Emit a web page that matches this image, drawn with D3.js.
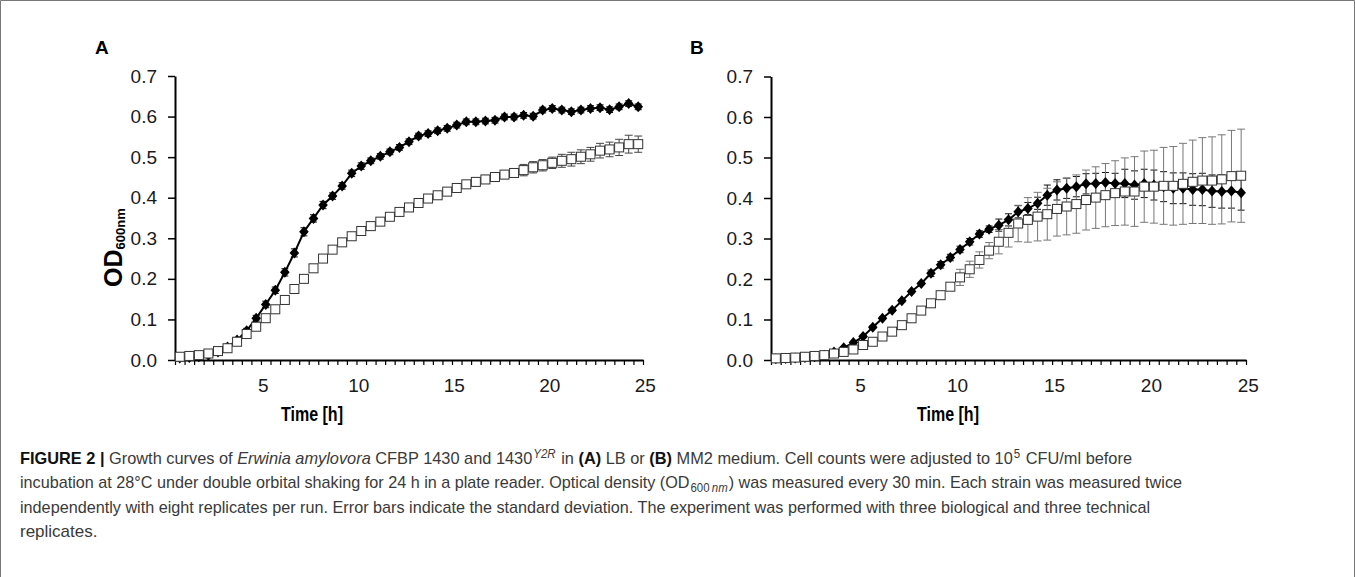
<!DOCTYPE html>
<html>
<head>
<meta charset="utf-8">
<script src="https://cdn.jsdelivr.net/npm/d3@7"></script>
<style>
  html, body { margin: 0; padding: 0; background: #fff; }
  svg { display: block; }
</style>
</head>
<body>
<svg id="fig" width="1355" height="577"></svg>
<script>
// Growth curves, OD600 vs time, two media (A = LB, B = MM2)

const TIME_H = [0.5, 1, 1.5, 2, 2.5, 3, 3.5, 4, 4.5, 5, 5.5, 6, 6.5, 7, 7.5, 8, 8.5, 9, 9.5, 10,
  10.5, 11, 11.5, 12, 12.5, 13, 13.5, 14, 14.5, 15, 15.5, 16, 16.5, 17, 17.5, 18, 18.5, 19, 19.5, 20,
  20.5, 21, 21.5, 22, 22.5, 23, 23.5, 24, 24.5];
const X_LABELS = [5, 10, 15, 20, 25];
const Y_TICKS = [0, 0.1, 0.2, 0.3, 0.4, 0.5, 0.6, 0.7];

// LB medium — wild type (filled diamonds)
const lbWT = [0.005, 0.006, 0.008, 0.012, 0.02, 0.032, 0.049, 0.072, 0.103, 0.137,
  0.172, 0.216, 0.264, 0.316, 0.349, 0.382, 0.404, 0.429, 0.46, 0.478,
  0.491, 0.502, 0.513, 0.524, 0.538, 0.552, 0.558, 0.565, 0.571, 0.579,
  0.587, 0.587, 0.589, 0.591, 0.599, 0.599, 0.603, 0.601, 0.616, 0.62,
  0.616, 0.612, 0.616, 0.62, 0.622, 0.617, 0.624, 0.632, 0.624];
const lbWTsd = [0.003, 0.003, 0.003, 0.003, 0.004, 0.004, 0.005, 0.006, 0.007, 0.008,
  0.008, 0.009, 0.01, 0.01, 0.009, 0.009, 0.008, 0.008, 0.008, 0.008,
  0.007, 0.007, 0.007, 0.007, 0.007, 0.007, 0.007, 0.007, 0.007, 0.007,
  0.007, 0.007, 0.007, 0.007, 0.007, 0.007, 0.007, 0.007, 0.007, 0.007,
  0.007, 0.007, 0.007, 0.007, 0.007, 0.007, 0.007, 0.007, 0.007];
// LB medium — 1430 Y2R (open squares)
const lbMut = [0.008, 0.01, 0.012, 0.016, 0.022, 0.029, 0.045, 0.064, 0.082, 0.103,
  0.125, 0.148, 0.175, 0.2, 0.226, 0.25, 0.272, 0.29, 0.305, 0.318,
  0.33, 0.341, 0.353, 0.365, 0.376, 0.387, 0.398, 0.406, 0.415, 0.424,
  0.433, 0.439, 0.445, 0.451, 0.457, 0.461, 0.468, 0.475, 0.48, 0.486,
  0.491, 0.495, 0.501, 0.507, 0.516, 0.519, 0.524, 0.532, 0.532];
const lbMutSd = [0.003, 0.003, 0.003, 0.003, 0.003, 0.003, 0.003, 0.003, 0.003, 0.003,
  0.005, 0.005, 0.005, 0.005, 0.005, 0.005, 0.005, 0.005, 0.005, 0.005,
  0.005, 0.007, 0.007, 0.007, 0.007, 0.007, 0.007, 0.007, 0.007, 0.007,
  0.007, 0.01, 0.01, 0.01, 0.01, 0.01, 0.014, 0.014, 0.014, 0.014,
  0.016, 0.017, 0.017, 0.017, 0.018, 0.018, 0.02, 0.022, 0.02];

// MM2 medium — wild type (filled diamonds)
const mmWT = [0.003, 0.004, 0.005, 0.006, 0.008, 0.012, 0.02, 0.03, 0.043, 0.058,
  0.081, 0.103, 0.123, 0.146, 0.169, 0.189, 0.214, 0.235, 0.253, 0.273,
  0.292, 0.311, 0.323, 0.333, 0.346, 0.366, 0.374, 0.387, 0.407, 0.42,
  0.424, 0.428, 0.435, 0.436, 0.438, 0.436, 0.436, 0.432, 0.436, 0.432,
  0.428, 0.424, 0.424, 0.421, 0.421, 0.417, 0.416, 0.417, 0.413];
const mmWTsd = [0.003, 0.003, 0.003, 0.003, 0.003, 0.003, 0.003, 0.003, 0.003, 0.003,
  0.003, 0.003, 0.003, 0.003, 0.003, 0.003, 0.008, 0.008, 0.008, 0.008,
  0.008, 0.008, 0.008, 0.015, 0.015, 0.015, 0.015, 0.015, 0.025, 0.025,
  0.025, 0.025, 0.025, 0.025, 0.025, 0.025, 0.035, 0.035, 0.035, 0.037,
  0.037, 0.038, 0.038, 0.039, 0.04, 0.04, 0.041, 0.042, 0.043];
// MM2 medium — 1430 Y2R (open squares)
const mmMut = [0.004, 0.005, 0.006, 0.008, 0.01, 0.012, 0.016, 0.02, 0.026, 0.037,
  0.045, 0.058, 0.07, 0.086, 0.103, 0.122, 0.14, 0.16, 0.181, 0.204,
  0.224, 0.247, 0.27, 0.292, 0.314, 0.337, 0.346, 0.354, 0.36, 0.373,
  0.379, 0.385, 0.395, 0.401, 0.407, 0.412, 0.416, 0.416, 0.428, 0.428,
  0.43, 0.43, 0.435, 0.44, 0.443, 0.443, 0.446, 0.454, 0.455];
const mmMutSd = [0.004, 0.004, 0.004, 0.004, 0.004, 0.004, 0.004, 0.004, 0.004, 0.004,
  0.004, 0.008, 0.008, 0.008, 0.008, 0.008, 0.008, 0.008, 0.008, 0.02,
  0.02, 0.02, 0.02, 0.03, 0.035, 0.045, 0.055, 0.06, 0.064, 0.067,
  0.07, 0.072, 0.074, 0.076, 0.078, 0.08, 0.083, 0.086, 0.088, 0.09,
  0.095, 0.097, 0.1, 0.103, 0.106, 0.108, 0.11, 0.113, 0.115];

const svg = d3.select('#fig');
const FONT = "'Liberation Sans', Arial, sans-serif";
const NARROW = "'Liberation Sans Narrow', 'Liberation Sans', Arial, sans-serif";

// frame round the whole figure
svg.append('path')
  .attr('d', 'M0.5,577V0.5H1354.5V577')
  .attr('fill', 'none').attr('stroke', '#777').attr('stroke-width', 1);

const panels = [
  { name: 'A', x0: 175, x1: 643, yTop: 76, labelX: 95, titleX: 312,
    wt: lbWT, wtSd: lbWTsd, mut: lbMut, mutSd: lbMutSd, mutBar: '#444', yLabel: true },
  { name: 'B', x0: 771, x1: 1246, yTop: 76.5, labelX: 690, titleX: 948,
    wt: mmWT, wtSd: mmWTsd, mut: mmMut, mutSd: mmMutSd, mutBar: '#777', yLabel: false }
];

// category boundaries, where the small x ticks sit
const boundaries = TIME_H.map(t => t - 0.25).concat([TIME_H[TIME_H.length - 1] + 0.25]);

function drawPanel(p) {
  const x = d3.scaleLinear().domain([boundaries[0], boundaries[boundaries.length - 1]]).range([p.x0, p.x1]);
  const y = d3.scaleLinear().domain([0, 0.7]).range([360, p.yTop]);
  const g = svg.append('g');

  // y axis
  const ya = g.append('g').attr('transform', `translate(${p.x0},0)`)
    .call(d3.axisLeft(y).tickValues(Y_TICKS).tickFormat(d3.format('.1f'))
      .tickSize(7).tickSizeOuter(0).tickPadding(11));
  ya.select('.domain').attr('stroke', '#000').attr('stroke-width', 2);
  ya.selectAll('.tick line').attr('stroke', '#000').attr('stroke-width', 1.5);
  ya.selectAll('text').attr('font-family', FONT).attr('font-size', '19px').attr('fill', '#1a1a1a');

  // x axis with one tick per half hour
  const xa = g.append('g').attr('transform', 'translate(0,360)')
    .call(d3.axisBottom(x).tickValues(boundaries).tickFormat('').tickSize(5).tickSizeOuter(0));
  xa.select('.domain').attr('stroke', '#000').attr('stroke-width', 2);
  xa.selectAll('.tick line').attr('stroke', '#000').attr('stroke-width', 1.2);

  // hour labels
  const xl = g.append('g').attr('transform', 'translate(-3,360)')
    .call(d3.axisBottom(x).tickValues(X_LABELS).tickSize(0).tickPadding(19));
  xl.select('.domain').remove();
  xl.selectAll('text').attr('font-family', FONT).attr('font-size', '19px').attr('fill', '#1a1a1a');

  // error bars
  function bars(vals, sds, color, cap) {
    const eb = g.append('g').attr('stroke', color).attr('stroke-width', 1);
    vals.forEach((v, i) => {
      const cx = x(TIME_H[i]);
      const lo = y(v - sds[i]), hi = y(v + sds[i]);
      eb.append('line').attr('x1', cx).attr('x2', cx).attr('y1', lo).attr('y2', hi);
      eb.append('line').attr('x1', cx - cap).attr('x2', cx + cap).attr('y1', lo).attr('y2', lo);
      eb.append('line').attr('x1', cx - cap).attr('x2', cx + cap).attr('y1', hi).attr('y2', hi);
    });
  }
  bars(p.wt, p.wtSd, '#111', 3.5);
  bars(p.mut, p.mutSd, p.mutBar, 4);

  // wild type line + diamonds
  g.append('path')
    .datum(p.wt)
    .attr('fill', 'none').attr('stroke', '#000').attr('stroke-width', 2)
    .attr('d', d3.line().x((d, i) => x(TIME_H[i])).y(d => y(d)));
  g.append('g').selectAll('path').data(p.wt).join('path')
    .attr('transform', (d, i) => `translate(${x(TIME_H[i])},${y(d)})`)
    .attr('d', 'M0,-5.5L4.8,0L0,5.5L-4.8,0Z')
    .attr('fill', '#000');

  // mutant open squares
  g.append('g').selectAll('rect').data(p.mut).join('rect')
    .attr('x', (d, i) => x(TIME_H[i]) - 4.5)
    .attr('y', d => y(d) - 4.5)
    .attr('width', 9).attr('height', 9)
    .attr('fill', '#fff').attr('stroke', '#333').attr('stroke-width', 1);

  // panel letter
  svg.append('text').attr('x', p.labelX).attr('y', 54)
    .attr('font-family', FONT).attr('font-weight', 'bold').attr('font-size', '19px')
    .text(p.name);

  // x title
  svg.append('text').attr('x', p.titleX).attr('y', 421)
    .attr('text-anchor', 'middle')
    .attr('font-family', NARROW).attr('font-weight', 'bold').attr('font-size', '21px')
    .attr('textLength', 62).attr('lengthAdjust', 'spacingAndGlyphs')
    .text('Time [h]');

  if (p.yLabel) {
    const yl = svg.append('text')
      .attr('transform', 'translate(122,287) rotate(-90)')
      .attr('font-family', FONT).attr('font-weight', 'bold').attr('font-size', '25px');
    yl.append('tspan').text('OD');
    yl.append('tspan').attr('font-size', '13px').attr('dy', 3).text('600nm');
  }
}

panels.forEach(drawPanel);

// caption
const CAPTION = [
  { y: 464, len: 1112, parts: [
    { s: 'FIGURE 2 | ', b: true, c: '#111' },
    { s: 'Growth curves of ' },
    { s: 'Erwinia amylovora', i: true },
    { s: ' CFBP 1430 and 1430' },
    { s: 'Y2R', i: true, sup: true },
    { s: ' in ' },
    { s: '(A)', b: true, c: '#111' },
    { s: ' LB or ' },
    { s: '(B)', b: true, c: '#111' },
    { s: ' MM2 medium. Cell counts were adjusted to 10' },
    { s: '5', sup: true },
    { s: ' CFU/ml before' }
  ] },
  { y: 488, len: 1162, parts: [
    { s: 'incubation at 28°C under double orbital shaking for 24 h in a plate reader. Optical density (OD' },
    { s: '600\u2009', sub: true },
    { s: 'nm', sub: true, i: true },
    { s: ') was measured every 30 min. Each strain was measured twice' }
  ] },
  { y: 513, len: 1130, parts: [
    { s: 'independently with eight replicates per run. Error bars indicate the standard deviation. The experiment was performed with three biological and three technical' }
  ] },
  { y: 537, len: null, parts: [ { s: 'replicates.' } ] }
];

CAPTION.forEach(line => {
  const t = svg.append('text').attr('x', 20).attr('y', line.y)
    .attr('font-family', NARROW).attr('font-size', '17px').attr('fill', '#3a3a3a');
  let shift = 0;
  line.parts.forEach(part => {
    const want = part.sup ? -6 : part.sub ? 4 : 0;
    const ts = t.append('tspan').text(part.s);
    if (want !== shift) { ts.attr('dy', want - shift).attr('dx', 1); shift = want; }
    if (part.b) ts.attr('font-weight', 'bold');
    if (part.i) ts.attr('font-style', 'italic');
    if (part.c) ts.attr('fill', part.c);
    if (part.sup || part.sub) ts.attr('font-size', '12px');
  });
  if (line.len) t.attr('textLength', line.len).attr('lengthAdjust', 'spacingAndGlyphs');
});
</script>
</body>
</html>
